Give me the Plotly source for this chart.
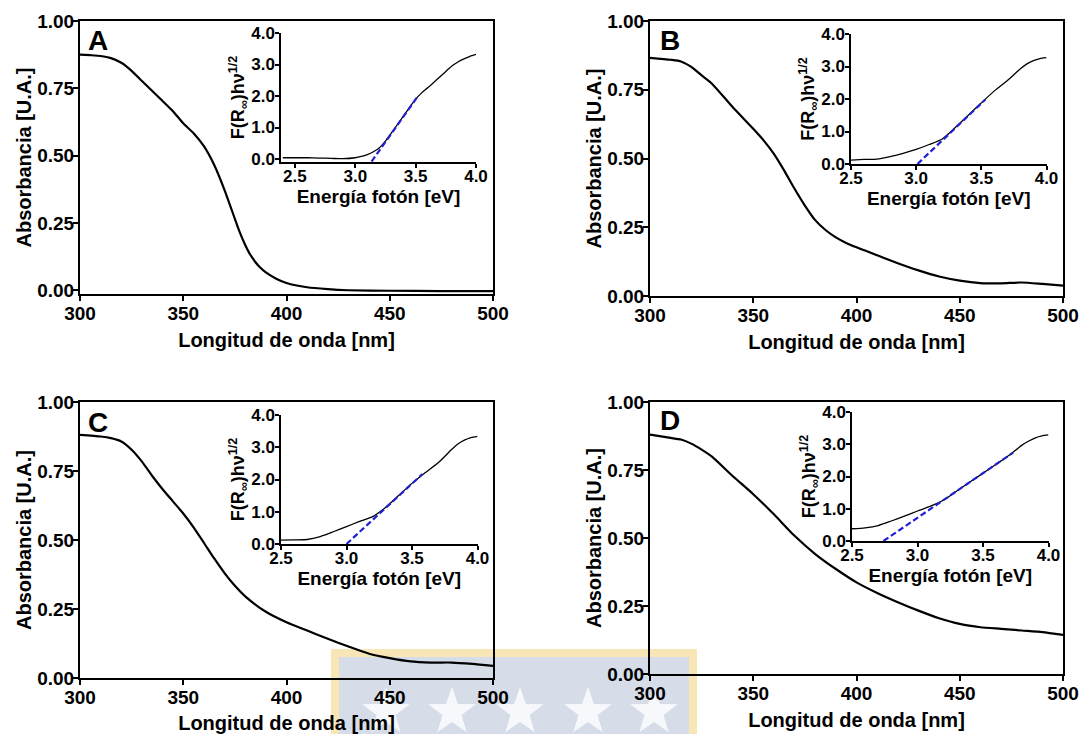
import math
import plotly.graph_objects as go

W, H = 1081, 734

# ---------------- data ----------------
wl_A = [300, 305, 310, 315, 320, 325, 330, 335, 340, 345, 350, 355, 360, 365, 370, 375,
        377, 380, 382, 385, 387, 390, 395, 400, 410, 420, 430, 450, 475, 500]
abs_A = [0.875, 0.873, 0.870, 0.862, 0.845, 0.815, 0.777, 0.740, 0.703, 0.665, 0.620, 0.583,
         0.535, 0.465, 0.372, 0.265, 0.222, 0.168, 0.138, 0.104, 0.086, 0.066, 0.043, 0.027,
         0.011, 0.004, 0.000, -0.002, -0.003, -0.003]

wl_B = [300, 310, 315, 320, 325, 330, 340, 350, 355, 360, 365, 370, 375, 380, 385, 390,
        395, 400, 410, 420, 430, 440, 450, 460, 470, 480, 490, 500]
abs_B = [0.866, 0.859, 0.853, 0.833, 0.802, 0.772, 0.687, 0.608, 0.566, 0.517, 0.456, 0.390,
         0.329, 0.276, 0.240, 0.213, 0.193, 0.177, 0.148, 0.119, 0.093, 0.071, 0.056, 0.047,
         0.046, 0.049, 0.044, 0.038]

wl_C = [300, 310, 315, 320, 325, 330, 335, 340, 345, 350, 355, 360, 365, 370, 375, 380,
        390, 400, 410, 420, 430, 440, 450, 460, 470, 480, 490, 500]
abs_C = [0.881, 0.875, 0.869, 0.857, 0.827, 0.784, 0.732, 0.684, 0.640, 0.596, 0.546, 0.490,
         0.433, 0.380, 0.334, 0.296, 0.240, 0.202, 0.172, 0.142, 0.114, 0.088, 0.072, 0.060,
         0.056, 0.056, 0.051, 0.044]

wl_D = [300, 310, 315, 320, 325, 330, 340, 350, 360, 370, 380, 390, 400, 410, 420, 430,
        440, 450, 460, 470, 480, 490, 500]
abs_D = [0.880, 0.868, 0.862, 0.847, 0.825, 0.799, 0.728, 0.661, 0.587, 0.508, 0.441, 0.386,
         0.337, 0.298, 0.264, 0.233, 0.205, 0.184, 0.172, 0.166, 0.160, 0.154, 0.144]

# Tauc insets: photon energy [eV] vs F(R)hv^1/2
en_A = [2.40, 2.50, 2.60, 2.70, 2.80, 2.90, 3.00, 3.05, 3.10, 3.15, 3.20, 3.25, 3.30, 3.35,
        3.40, 3.45, 3.50, 3.55, 3.60, 3.65, 3.70, 3.75, 3.80, 3.85, 3.90, 3.95, 4.00]
tauc_A = [0.04, 0.04, 0.04, 0.03, 0.02, 0.01, 0.04, 0.08, 0.14, 0.23, 0.36, 0.57, 0.83, 1.10,
          1.37, 1.64, 1.90, 2.10, 2.26, 2.43, 2.60, 2.78, 2.95, 3.08, 3.18, 3.26, 3.32]

en_B = [2.50, 2.60, 2.70, 2.80, 2.90, 3.00, 3.10, 3.20, 3.30, 3.40, 3.50, 3.60, 3.70, 3.80,
        3.85, 3.90, 3.95, 4.00]
tauc_B = [0.12, 0.14, 0.15, 0.23, 0.33, 0.45, 0.60, 0.77, 1.12, 1.50, 1.88, 2.25, 2.57, 2.93,
          3.08, 3.18, 3.24, 3.27]

en_C = [2.50, 2.60, 2.70, 2.80, 2.90, 3.00, 3.10, 3.20, 3.30, 3.40, 3.50, 3.55, 3.60, 3.70,
        3.80, 3.85, 3.90, 3.95, 4.00]
tauc_C = [0.12, 0.13, 0.14, 0.23, 0.38, 0.54, 0.70, 0.85, 1.14, 1.51, 1.88, 2.05, 2.21, 2.52,
          2.92, 3.10, 3.22, 3.30, 3.34]

en_D = [2.50, 2.60, 2.70, 2.80, 2.90, 3.00, 3.10, 3.20, 3.30, 3.40, 3.50, 3.60, 3.70, 3.75,
        3.80, 3.85, 3.90, 3.95, 4.00]
tauc_D = [0.38, 0.41, 0.48, 0.62, 0.77, 0.93, 1.08, 1.27, 1.55, 1.83, 2.10, 2.38, 2.66, 2.82,
          2.98, 3.10, 3.20, 3.26, 3.29]

# linear fits (band-gap extrapolation): [start, end]
fit_A_x = [3.135, 3.52]
fit_A_y = [-0.08, 2.00]
fit_B_x = [3.01, 3.53]
fit_B_y = [0.00, 1.98]
fit_C_x = [3.00, 3.58]
fit_C_y = [0.00, 2.17]
fit_D_x = [2.74, 3.73]
fit_D_y = [0.00, 2.74]

panel_labels = ["A", "B", "C", "D"]
main_yticks = [0, 0.25, 0.5, 0.75, 1.0]
main_xticks = [300, 350, 400, 450, 500]
inset_xticks = [2.5, 3.0, 3.5, 4.0]
inset_yticks = [0, 1, 2, 3, 4]

# ---------------- layout helpers ----------------
def px_x(a, b):
    return [a / W, b / W]

def px_y(top, bottom):
    return [1 - bottom / H, 1 - top / H]

FONT = "Liberation Sans, Arial, sans-serif"

main_boxes = [(80, 493, 21, 294), (650, 1063, 21, 296), (80, 493, 402, 678), (650, 1063, 402, 674)]
main_yranges = [[-0.014, 1.0], [0, 1.0], [0, 1.0], [0, 1.0]]
inset_boxes = [(281, 476, 33, 162), (851, 1046.5, 34, 164), (281, 477.5, 415, 544), (852, 1048.5, 412, 541)]
inset_xranges = [[2.385, 4.0], [2.5, 4.0], [2.5, 4.0], [2.5, 4.0]]
inset_yranges = [[-0.095, 4.0], [0, 4.0], [0, 4.0], [0, 4.0]]

main_x = [wl_A, wl_B, wl_C, wl_D]
main_y = [abs_A, abs_B, abs_C, abs_D]
ins_x = [en_A, en_B, en_C, en_D]
ins_y = [tauc_A, tauc_B, tauc_C, tauc_D]
fits = [(fit_A_x, fit_A_y), (fit_B_x, fit_B_y), (fit_C_x, fit_C_y), (fit_D_x, fit_D_y)]

fig = go.Figure()
layout = {}

for i in range(4):
    mi = 2 * i + 1
    ii = 2 * i + 2
    mx, my = ("x" if mi == 1 else f"x{mi}"), ("y" if mi == 1 else f"y{mi}")
    ix, iy = f"x{ii}", f"y{ii}"
    x0, x1, yt, yb = main_boxes[i]
    layout["xaxis" if mi == 1 else f"xaxis{mi}"] = dict(
        domain=px_x(x0, x1), anchor=my, range=[300, 500], tickvals=main_xticks,
        automargin=False, ticklabelstandoff=-4,
        showline=True, linewidth=2, linecolor="black", mirror=True,
        ticks="outside", ticklen=5, tickwidth=2, tickcolor="black",
        showgrid=False, zeroline=False,
        tickfont=dict(family=FONT, size=19, color="black", weight="bold"),
        title=dict(text="Longitud de onda [nm]", standoff=10,
                   font=dict(family=FONT, size=20, color="black", weight="bold")),
    )
    layout["yaxis" if mi == 1 else f"yaxis{mi}"] = dict(
        domain=px_y(yt, yb), anchor=mx, range=main_yranges[i], tickvals=main_yticks,
        tickformat=".2f", automargin=False, ticklabelstandoff=-5,
        showline=True, linewidth=2, linecolor="black", mirror=True,
        ticks="outside", ticklen=5, tickwidth=2, tickcolor="black",
        showgrid=False, zeroline=False,
        tickfont=dict(family=FONT, size=19, color="black", weight="bold"),
        title=dict(text="Absorbancia [U.A.]", standoff=0,
                   font=dict(family=FONT, size=20, color="black", weight="bold")),
    )
    a0, a1, at, ab = inset_boxes[i]
    layout[f"xaxis{ii}"] = dict(
        domain=px_x(a0, a1), anchor=iy, range=inset_xranges[i], tickvals=inset_xticks,
        tickformat=".1f", automargin=False, ticklabelstandoff=-6,
        showline=True, linewidth=1.5, linecolor="black", mirror=False,
        ticks="outside", ticklen=4, tickwidth=1.5, tickcolor="black",
        showgrid=False, zeroline=False,
        tickfont=dict(family=FONT, size=17, color="black", weight="bold"),
        title=dict(text="Energía fotón [eV]", standoff=0,
                   font=dict(family=FONT, size=19, color="black", weight="bold")),
    )
    layout[f"yaxis{ii}"] = dict(
        domain=px_y(at, ab), anchor=ix, range=inset_yranges[i], tickvals=inset_yticks,
        tickformat=".1f", automargin=False, ticklabelstandoff=-3,
        showline=True, linewidth=1.5, linecolor="black", mirror=False,
        ticks="outside", ticklen=4, tickwidth=1.5, tickcolor="black",
        showgrid=False, zeroline=False,
        tickfont=dict(family=FONT, size=17, color="black", weight="bold"),
        title=dict(text="F(R<sub>∞</sub>)hν<sup>1/2</sup>", standoff=0,
                   font=dict(family=FONT, size=18, color="black", weight="bold")),
    )

    fig.add_trace(go.Scatter(x=main_x[i], y=main_y[i], mode="lines", xaxis=mx, yaxis=my,
                             line=dict(color="black", width=2.2, shape="spline", smoothing=0.6),
                             showlegend=False, hoverinfo="skip"))
    fig.add_trace(go.Scatter(x=ins_x[i], y=ins_y[i], mode="lines", xaxis=ix, yaxis=iy,
                             line=dict(color="black", width=1.3, shape="spline", smoothing=0.6),
                             showlegend=False, hoverinfo="skip"))
    fx, fy = fits[i]
    fig.add_trace(go.Scatter(x=fx, y=fy, mode="lines", xaxis=ix, yaxis=iy,
                             line=dict(color="#1f1fd6", width=2.2, dash="6px,3px"),
                             showlegend=False, hoverinfo="skip"))

# panel letters
letter_pos = [(98, 40), (670, 40), (98, 422), (670, 420)]
annotations = []
for lab, (lx, ly) in zip(panel_labels, letter_pos):
    annotations.append(dict(text=lab, x=lx / W, y=1 - ly / H, xref="paper", yref="paper",
                            showarrow=False, xanchor="center", yanchor="middle",
                            font=dict(family=FONT, size=28, color="black", weight="bold")))

# faint watermark in the lower middle of the page (decoration, drawn beneath everything)
shapes = [
    dict(type="rect", xref="paper", yref="paper", x0=331 / W, x1=697 / W, y0=0, y1=1 - 649 / H,
         fillcolor="#f9e6b6", line=dict(width=0), layer="below"),
    dict(type="rect", xref="paper", yref="paper", x0=339 / W, x1=689 / W, y0=0, y1=1 - 657 / H,
         fillcolor="#d6dde9", line=dict(width=0), layer="below"),
]

def star_path(cx, cy, R, r):
    pts = []
    for k in range(10):
        ang = -math.pi / 2 + k * math.pi / 5
        rad = R if k % 2 == 0 else r
        px = cx + rad * math.cos(ang)
        py = cy + rad * math.sin(ang)
        pts.append(f"{px / W:.5f},{1 - py / H:.5f}")
    return "M" + " L".join(pts) + " Z"

for sx in [386, 452, 520, 588, 654]:
    shapes.append(dict(type="path", xref="paper", yref="paper", path=star_path(sx, 712, 25, 10),
                       fillcolor="rgba(255,255,255,0.8)", line=dict(width=0), layer="below"))

fig.update_layout(
    template="none",
    width=W, height=H, autosize=False,
    margin=dict(l=0, r=0, t=0, b=0, pad=0),
    paper_bgcolor="white", plot_bgcolor="rgba(0,0,0,0)",
    showlegend=False,
    annotations=annotations, shapes=shapes,
    **layout,
)

fig.write_html("out.html",
               config={"displayModeBar": False},
               post_script="document.body.style.margin='0px';document.body.style.overflow='hidden';")
